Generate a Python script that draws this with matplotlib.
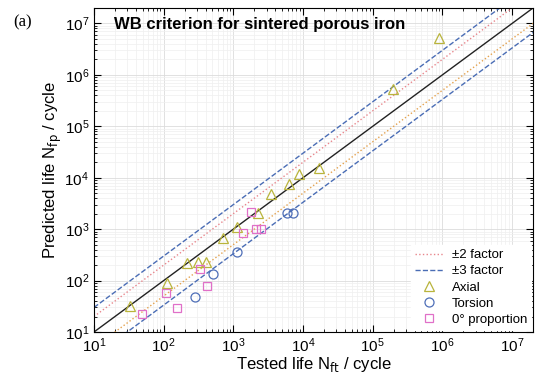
import numpy as np
import matplotlib
matplotlib.use("Agg")
import matplotlib.pyplot as plt

plt.rcParams['font.family'] = ['Liberation Sans', 'DejaVu Sans']

axial_nt = [33, 112, 215, 310, 405, 710, 1120, 2240, 3450, 6300, 8800, 17000, 1.95e5, 8.9e5]
axial_np = [32, 90, 220, 230, 230, 680, 1100, 2100, 4900, 7600, 11800, 15500, 5.4e5, 5.2e6]

torsion_nt = [280, 510, 1120, 5900, 7200]
torsion_np = [48, 135, 365, 2100, 2100]

prop_nt = [49, 155, 108, 330, 415, 1380, 1790, 2100, 2500]
prop_np = [22, 29, 57, 170, 79, 850, 2150, 1000, 1000]

lim = [10, 2e7]

fig = plt.figure(figsize=(5.37, 3.88), dpi=100)
ax = fig.add_axes([0.175, 0.1443, 0.8176, 0.8351])

x = np.array(lim)
ax.plot(x, x, color='#222222', lw=1.0)
ax.plot(x, 2 * x, ':', color='#e8868c', lw=1.0, label='±2 factor')
ax.plot(x, x / 2, ':', color='#e4a24e', lw=1.0)
ax.plot(x, 3 * x, '--', color='#4a6db5', lw=1.0, label='±3 factor')
ax.plot(x, x / 3, '--', color='#4a6db5', lw=1.0)

ax.plot(axial_nt, axial_np, '^', mfc='none', mec='#b9b43c', ms=7, mew=0.9, label='Axial')
ax.plot(torsion_nt, torsion_np, 'o', mfc='none', mec='#4f6fb8', ms=6.5, mew=0.9, label='Torsion')
ax.plot(prop_nt, prop_np, 's', mfc='none', mec='#e070c8', ms=6, mew=0.9, label='0° proportion')

ax.set_xscale('log')
ax.set_yscale('log')
ax.set_xlim(lim)
ax.set_ylim(lim)
ax.set_xticks([10**k for k in range(1, 8)])
ax.set_yticks([10**k for k in range(1, 8)])

ax.grid(True, which='major', color='#dcdcdc', lw=0.6)
ax.grid(True, which='minor', color='#efefef', lw=0.5)
ax.set_axisbelow(True)
ax.tick_params(which='both', direction='in', top=True, right=True, labelsize=11)
ax.tick_params(which='major', length=5)
ax.tick_params(which='minor', length=2.5)

ax.set_xlabel('Tested life N$_{\\rm ft}$ / cycle', fontsize=12, labelpad=0)
ax.set_ylabel('Predicted life N$_{\\rm fp}$ / cycle', fontsize=12, labelpad=0)

ax.text(0.045, 0.972, 'WB criterion for sintered porous iron', transform=ax.transAxes,
        fontsize=12, fontweight='bold', va='top', ha='left')
fig.text(0.024, 0.962, '(a)', fontsize=12, family='Liberation Serif', va='top')

leg = ax.legend(loc='lower right', fontsize=9.5, frameon=True, fancybox=False,
                edgecolor='white', framealpha=1, handlelength=2.2,
                borderaxespad=0.15, labelspacing=0.3, handletextpad=0.6,
                borderpad=0.3)

plt.savefig('out.png', dpi=100)
